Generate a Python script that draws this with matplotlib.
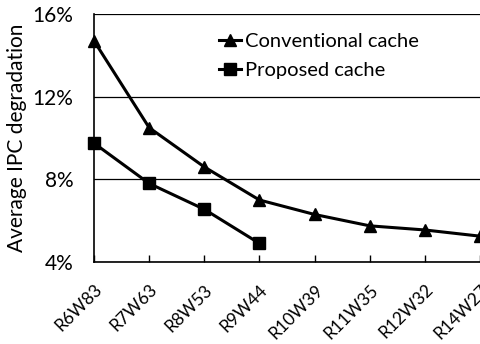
import matplotlib
matplotlib.use("Agg")
import matplotlib.pyplot as plt
from matplotlib.ticker import FuncFormatter, FixedLocator

plt.rcParams['font.family'] = ['Lato', 'DejaVu Sans']

configs = ["R6W83", "R7W63", "R8W53", "R9W44", "R10W39", "R11W35", "R12W32", "R14W27"]
conventional = [14.7, 10.5, 8.6, 7.0, 6.3, 5.75, 5.55, 5.25]
proposed = [9.75, 7.8, 6.55, 4.9]

fig = plt.figure(figsize=(4.81, 3.44), dpi=100)
ax = fig.add_axes([94 / 481, 1 - 262 / 344, (480 - 94) / 481, (262 - 14) / 344])

x_conv = list(range(len(conventional)))
x_prop = list(range(len(proposed)))
ax.plot(x_conv, conventional, color="black", lw=2.2, marker="^", ms=8.5,
        label="Conventional cache", zorder=3, clip_on=False)
ax.plot(x_prop, proposed, color="black", lw=2.2, marker="s", ms=8,
        label="Proposed cache", zorder=3, clip_on=False)

ax.set_xlim(0, len(configs) - 1)
ax.set_ylim(4, 16)
ax.yaxis.set_major_locator(FixedLocator([4, 8, 12, 16]))
ax.yaxis.set_major_formatter(FuncFormatter(lambda v, p: f"{v:.0f}%"))
ax.set_xticks(x_conv)
ax.set_xticklabels(configs, rotation=45, ha="right", rotation_mode="anchor")
ax.tick_params(axis="x", direction="in", length=5, width=1, pad=14, labelsize=12.5)
ax.tick_params(axis="y", length=0, pad=15, labelsize=15)
ax.grid(axis="y", color="black", lw=0.9)
ax.set_axisbelow(True)
for s in ("top", "right"):
    ax.spines[s].set_visible(False)
for s in ("left", "bottom"):
    ax.spines[s].set_linewidth(1.2)

ax.set_ylabel("Average IPC degradation", fontsize=15, labelpad=4)

ax.legend(loc="upper left", bbox_to_anchor=(0.302, 0.955), frameon=False,
          fontsize=14.5, handlelength=1.1, handletextpad=0.2, labelspacing=0.6,
          borderaxespad=0)

fig.savefig("out.png", dpi=100)
